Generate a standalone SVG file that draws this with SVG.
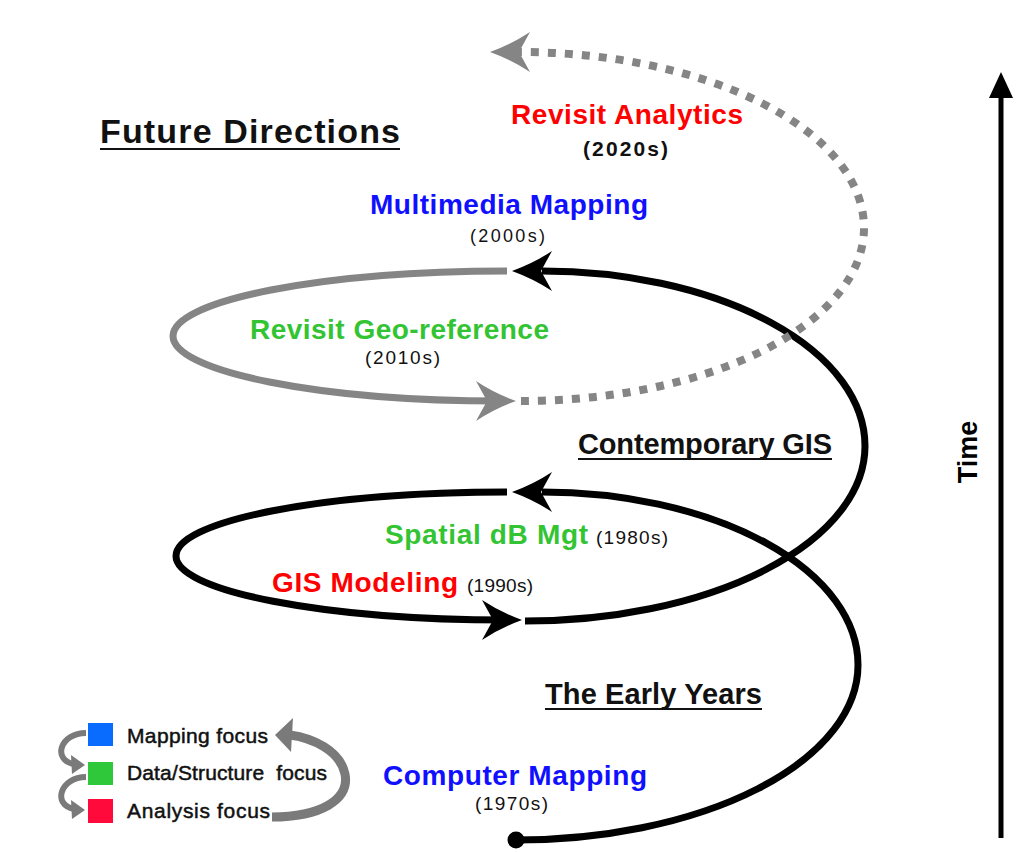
<svg xmlns="http://www.w3.org/2000/svg" width="1026" height="852" viewBox="0 0 1026 852">
  <style>
    .t { font-family: "Liberation Sans", Arial, sans-serif; }
    .big { font-size: 28px; font-weight: bold; }
    .yr { font-size: 19px; fill: #111; }
    .head { font-size: 29px; font-weight: bold; fill: #111; }
    .leg { font-size: 21px; fill: #111; stroke: #111; stroke-width: 0.5; }
    .blk { fill: none; stroke: #000; stroke-width: 7; }
    .gry { fill: none; stroke: #858585; stroke-width: 7; }
    .dot { fill: none; stroke: #858585; stroke-width: 8; stroke-dasharray: 8 9; }
    .ul { stroke: #111; stroke-width: 2.2; }
    .lg { fill: none; stroke: #7a7a7a; stroke-linecap: butt; }
  </style>
  <defs>
    <!-- concave arrowhead, tip at origin, pointing left -->
    <path id="head" d="M0,0 Q22,-8 40,-20 L29,0 L40,20 Q22,8 0,0 Z"/>
    <filter id="soft" x="-50%" y="-5%" width="200%" height="110%">
      <feGaussianBlur stdDeviation="2"/>
    </filter>
  </defs>

  <!-- Connectors: the spiral of eras, each sweep split at its extreme point -->
  <g id="connectors">
    <!-- Early years: start dot, sweep up the right side -->
    <path class="blk" d="M516,840 A 342 175 0 0 0 858,665 A 316 173 0 0 0 542,492"/>
    <!-- 1980s-1990s loop on the left -->
    <path class="blk" d="M507,492 A 331 64 0 0 0 176,556 A 332 64 0 0 0 508,620"/>
    <!-- Contemporary sweep up the right side -->
    <path class="blk" d="M525,621 A 340 175 0 0 0 865,446 A 323 175 0 0 0 542,271"/>
    <!-- Geo-reference revisit loop -->
    <path class="gry" d="M507,271 A 334 65 0 0 0 173,336 A 329 65 0 0 0 502,401"/>
    <!-- Future: dotted sweep to analytics -->
    <path class="dot" d="M521,401 A 343 173 0 0 0 864,228 A 346 176 0 0 0 518,52"/>

    <circle cx="516" cy="840" r="8.5" fill="#000"/>
    <use href="#head" x="512" y="492" fill="#000"/>
    <use href="#head" transform="translate(522,620) rotate(180)" fill="#000"/>
    <use href="#head" x="512" y="271" fill="#000"/>
    <use href="#head" transform="translate(516,401) rotate(180)" fill="#858585"/>
    <use href="#head" x="490" y="52" fill="#858585"/>
  </g>

  <!-- Time axis -->
  <g id="time-axis">
    <line x1="1005" y1="100" x2="1005" y2="840" stroke="#9a9a9a" stroke-width="5" filter="url(#soft)"/>
    <line x1="1001" y1="96" x2="1001" y2="838" stroke="#000" stroke-width="5"/>
    <polygon points="1001,72 1013,98 989,98" fill="#000"/>
    <text class="t" transform="translate(977,452) rotate(-90)" text-anchor="middle" style="font-size:27px;font-weight:bold" fill="#000">Time</text>
  </g>

  <!-- Section headings -->
  <g id="future-directions">
    <text class="t head" x="100" y="143" style="font-size:34px" textLength="300">Future Directions</text>
    <line class="ul" x1="100" y1="149" x2="400" y2="149"/>
  </g>
  <g id="contemporary-gis">
    <text class="t head" x="578" y="454" textLength="254">Contemporary GIS</text>
    <line class="ul" x1="578" y1="459" x2="832" y2="459"/>
  </g>
  <g id="early-years">
    <text class="t head" x="545" y="704" textLength="217">The Early Years</text>
    <line class="ul" x1="545" y1="709" x2="762" y2="709"/>
  </g>

  <!-- Eras -->
  <g id="revisit-analytics">
    <text class="t big" x="511" y="124" textLength="232" fill="#ff0000">Revisit Analytics</text>
    <text class="t" x="583" y="156" textLength="85" style="font-size:21px;font-weight:bold" fill="#111">(2020s)</text>
  </g>
  <g id="multimedia-mapping">
    <text class="t big" x="370" y="214" textLength="278" fill="#1010ff">Multimedia Mapping</text>
    <text class="t yr" x="470" y="242" textLength="75" style="font-size:18px">(2000s)</text>
  </g>
  <g id="revisit-georeference">
    <text class="t big" x="250" y="339" textLength="299" fill="#33c433">Revisit Geo-reference</text>
    <text class="t yr" x="365" y="364" textLength="75">(2010s)</text>
  </g>
  <g id="spatial-db">
    <text class="t big" x="385" y="544" textLength="203" fill="#33c433">Spatial dB Mgt</text>
    <text class="t yr" x="596" y="544" textLength="72">(1980s)</text>
  </g>
  <g id="gis-modeling">
    <text class="t big" x="272" y="592" textLength="186" fill="#ff0000">GIS Modeling</text>
    <text class="t yr" x="467" y="592" textLength="66">(1990s)</text>
  </g>
  <g id="computer-mapping">
    <text class="t big" x="383" y="785" textLength="264" fill="#1010ff">Computer Mapping</text>
    <text class="t yr" x="475" y="810" textLength="73">(1970s)</text>
  </g>

  <!-- Legend -->
  <g id="legend">
    <rect x="88" y="723" width="25" height="23" fill="#0a6cff"/>
    <rect x="88" y="762" width="25" height="23" fill="#2ec83a"/>
    <rect x="88" y="799" width="25" height="24" fill="#ff0a3a"/>
    <text class="t leg" x="127" y="743" textLength="141">Mapping focus</text>
    <text class="t leg" x="127" y="780" textLength="200" xml:space="preserve">Data/Structure  focus</text>
    <text class="t leg" x="127" y="818" textLength="143">Analysis focus</text>
    <!-- cycle arrows -->
    <path class="lg" stroke-width="6" d="M86,733 C60,733 52,760 74,764"/>
    <polygon points="85,765 71,755 72,774" fill="#7a7a7a"/>
    <path class="lg" stroke-width="6" d="M86,777 C60,777 52,805 74,809"/>
    <polygon points="85,810 71,800 72,819" fill="#7a7a7a"/>
    <path class="lg" stroke-width="9" d="M272,817 C320,817 350,800 345,774 C340,750 312,738 290,735"/>
    <polygon points="275,735 293,718 291,752" fill="#7a7a7a"/>
  </g>
</svg>
